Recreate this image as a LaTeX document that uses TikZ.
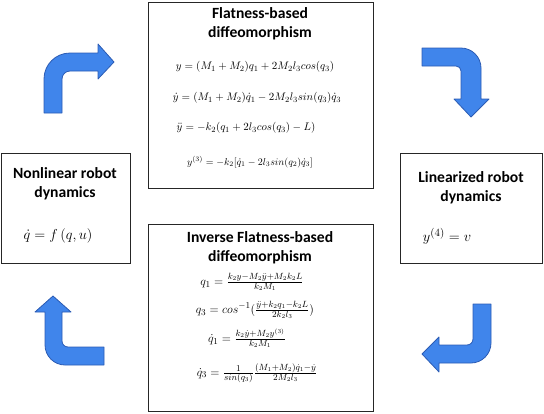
\documentclass[tikz,border=0pt]{standalone}
\usepackage{amsmath}
\usepackage{fontspec}
\newfontfamily\calib{Carlito}
\definecolor{arrowblue}{RGB}{64,133,235}
\definecolor{arrowedge}{RGB}{44,92,180}
\tikzset{
  box/.style={draw=black!85, line width=0.9pt, fill=white, inner sep=0pt, anchor=north west},
  ttl/.style={font=\calib\bfseries\fontsize{15.6}{19}\selectfont, align=center, inner sep=0pt},
  eq/.style={font=\fontsize{11.2}{13}\selectfont, inner sep=0pt},
  inveq/.style={font=\fontsize{12.6}{14}\selectfont, inner sep=0pt},
  smalleq/.style={font=\fontsize{10}{12}\selectfont, inner sep=0pt},
  sideeq/.style={font=\fontsize{15}{18}\selectfont, inner sep=0pt},
  bendarrow/.style={fill=arrowblue, draw=arrowedge, line width=0.8pt, line join=round},
}
\begin{document}
\begin{tikzpicture}[x=1pt,y=-1pt]
\useasboundingbox (0,0) rectangle (544,413);
% boxes
\node[box, minimum width=225pt, minimum height=186pt] (flat) at (148,2) {};
\node[box, minimum width=225pt, minimum height=187pt] (inv) at (148,224) {};
\node[box, minimum width=129pt, minimum height=110pt] (nonlin) at (1,153) {};
\node[box, minimum width=142pt, minimum height=110pt] (lin) at (400,153) {};
% top box
\node[ttl] (flatT) at (260,23.5) {Flatness-based\\diffeomorphism};
\node[eq] (fe1) at (255,67) {$y=(M_1+M_2)q_1+2M_2l_3cos(q_3)$};
\node[eq] (fe2) at (257,98) {$\dot y=(M_1+M_2)\dot q_1-2M_2l_3sin(q_3)\dot q_3$};
\node[eq] (fe3) at (246,128) {$\ddot y=-k_2(q_1+2l_3cos(q_3)-L)$};
\node[smalleq] (fe4) at (250,162) {$y^{(3)}=-k_2[\dot q_1-2l_3sin(q_2)\dot q_3]$};
% bottom box
\node[ttl] (invT) at (260,247.5) {Inverse Flatness-based\\diffeomorphism};
\node[inveq] (ie1) at (252,282) {$q_1=\frac{k_2y-M_2\ddot y+M_2k_2L}{k_2M_1}$};
\node[inveq] (ie2) at (255,310) {$q_3=cos^{-1}(\frac{\ddot y+k_2q_1-k_2L}{2k_2l_3})$};
\node[inveq] (ie3) at (247,338) {$\dot q_1=\frac{k_2\dot y+M_2y^{(3)}}{k_2M_1}$};
\node[inveq] (ie4) at (257,373) {$\dot q_3=\frac{1}{sin(q_3)}\frac{(M_1+M_2)\dot q_1-\dot y}{2M_2l_3}$};
% side boxes
\node[ttl] (nonlinT) at (65,183.5) {Nonlinear robot\\dynamics};
\node[sideeq] (nonlinE) at (58,236) {$\dot q = f\,(q,u)$};
\node[ttl] (linT) at (471,187.5) {Linearized robot\\dynamics};
\node[sideeq] (linE) at (447,236) {$y^{(4)} = v$};
% bent arrows
\path[bendarrow] (44,113) -- (44,79) .. controls (44,64.6) and (55.6,53) .. (70,53)
  -- (98,53) -- (98,44) -- (114,62) -- (98,79) -- (98,71) -- (70,71)
  .. controls (65.6,71) and (62,74.6) .. (62,79) -- (62,113) -- cycle;
\path[bendarrow] (422,48) -- (461,48) .. controls (472,48) and (481,57) .. (481,68)
  -- (481,99) -- (489,99) -- (471,117) -- (454,99) -- (461,99) -- (461,71)
  .. controls (461,68.2) and (458.8,66) .. (456,66) -- (422,66) -- cycle;
\path[bendarrow] (104,365) -- (65,365) .. controls (54,365) and (45,356) .. (45,345)
  -- (45,312) -- (35,312) -- (53,296) -- (71,312) -- (62,312) -- (62,341)
  .. controls (62,344.3) and (64.7,347) .. (68,347) -- (104,347) -- cycle;
\path[bendarrow] (473,304) -- (491,304) -- (491,343) .. controls (491,354) and (482,363) .. (471,363)
  -- (439,363) -- (439,372) -- (422,354) -- (439,337) -- (439,345) -- (467,345)
  .. controls (470.3,345) and (473,342.3) .. (473,339) -- cycle;
\end{tikzpicture}
\end{document}
